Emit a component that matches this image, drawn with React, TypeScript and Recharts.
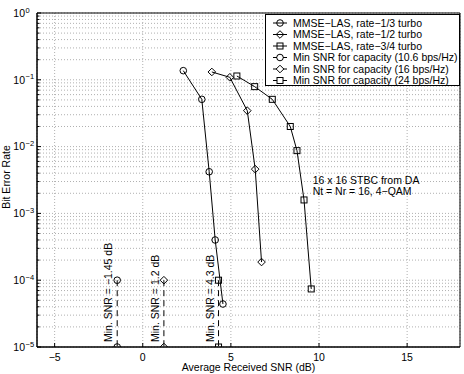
import React from 'react';
import {
    LineChart,
    Line,
    XAxis,
    YAxis,
    CartesianGrid,
    ReferenceArea,
    ReferenceDot,
    Legend
} from 'recharts';

const FONT = '"Liberation Sans", Arial, Helvetica, sans-serif';

// BER curves (SNR in dB, bit error rate)
const snr13 = [2.3, 3.35, 3.77, 4.11, 4.55];
const ber13 = [0.137, 0.051, 0.0042, 4.0e-4, 4.4e-5];
const snr12 = [3.92, 4.94, 5.93, 6.38, 6.74];
const ber12 = [0.131, 0.109, 0.0345, 0.0046, 1.87e-4];
const snr34 = [5.34, 6.35, 7.35, 8.37, 8.75, 9.15, 9.56];
const ber34 = [0.114, 0.079, 0.051, 0.02, 0.0087, 1.59e-3, 7.4e-5];

// capacity limits
const capSnr = [-1.45, 1.2, 4.3];
const capBer = [1e-4, 1e-5];
const capText = ['Min. SNR = \u22121.45 dB', 'Min. SNR = 1.2 dB', 'Min. SNR = 4.3 dB'];

const noteLines = ['16 x 16 STBC from DA', 'Nt = Nr = 16, 4\u2212QAM'];

const legendNames = [
    'MMSE\u2212LAS, rate\u22121/3 turbo',
    'MMSE\u2212LAS, rate\u22121/2 turbo',
    'MMSE\u2212LAS, rate\u22123/4 turbo',
    'Min SNR for capacity (10.6 bps/Hz)',
    'Min SNR for capacity (16 bps/Hz)',
    'Min SNR for capacity (24 bps/Hz)'
];
const shapes = ['circle', 'diamond', 'square'];

const xTicks = [-5, 0, 5, 10, 15];
const decades = [-5, -4, -3, -2, -1, 0];
const yTicks: number[] = [];
decades.forEach((d) => {
    if (d === 0) {
        yTicks.push(1);
        return;
    }
    for (let m = 1; m <= 9; m++) yTicks.push(m * Math.pow(10, d));
});

const toPts = (xs: number[], ys: number[]) => xs.map((x, i) => ({ snr: x, ber: ys[i] }));

function Marker({ shape, cx, cy }: { shape: string; cx: number; cy: number }) {
    if (shape === 'circle') return <circle cx={cx} cy={cy} r={3.3} fill="none" stroke="#000" />;
    if (shape === 'diamond')
        return (
            <polygon
                points={`${cx},${cy - 3.8} ${cx + 3.8},${cy} ${cx},${cy + 3.8} ${cx - 3.8},${cy}`}
                fill="none"
                stroke="#000"
            />
        );
    return <rect x={cx - 3} y={cy - 3} width={6} height={6} fill="none" stroke="#000" />;
}

const makeDot = (shape: string, label?: string) => (props: any) => {
    const { cx, cy, index } = props;
    if (cx == null || cy == null) return <g key={`e-${index}`} />;
    return (
        <g key={`d-${shape}-${index}`}>
            <Marker shape={shape} cx={cx} cy={cy} />
            {label && index === 1 ? (
                <text
                    transform={`translate(${cx - 5},${cy - 5}) rotate(-90)`}
                    fontSize={10.5}
                    fontFamily={FONT}
                    fill="#000"
                >
                    {label}
                </text>
            ) : null}
        </g>
    );
};

const YTick = (props: any) => {
    const { x, y, payload } = props;
    const lg = Math.log10(payload.value);
    const major = Math.abs(lg - Math.round(lg)) < 1e-6;
    return (
        <g>
            <line x1={x} x2={x + (major ? 4 : 2.5)} y1={y} y2={y} stroke="#000" />
            {major ? (
                <g fontFamily={FONT} fill="#000">
                    <text x={x - 12} y={y + 3.7} textAnchor="end" fontSize={10.5}>
                        10
                    </text>
                    <text x={x - 11.5} y={y - 0.5} fontSize={7.5}>
                        {Math.round(lg) === 0 ? '0' : `\u2212${Math.abs(Math.round(lg))}`}
                    </text>
                </g>
            ) : null}
        </g>
    );
};

const XTick = (props: any) => {
    const { x, y, payload } = props;
    const v = payload.value;
    return (
        <g>
            <line x1={x} x2={x} y1={y - 6} y2={y - 10} stroke="#000" />
            <text x={x} y={y + 7.5} textAnchor="middle" fontSize={10.5} fontFamily={FONT} fill="#000">
                {v < 0 ? `\u2212${Math.abs(v)}` : v}
            </text>
        </g>
    );
};

const renderLegend = () => (
    <svg width={196} height={72} style={{ display: 'block' }}>
        <rect x={0.5} y={0.5} width={194} height={71} fill="#fff" stroke="#000" />
        {legendNames.map((name, i) => {
            const y = 9 + i * 11.5;
            const dashed = i >= 3;
            return (
                <g key={name}>
                    {dashed ? (
                        <g stroke="#000">
                            <line x1={8} x2={12} y1={y} y2={y} />
                            <line x1={18} x2={22} y1={y} y2={y} />
                        </g>
                    ) : (
                        <line x1={8} x2={22} y1={y} y2={y} stroke="#000" />
                    )}
                    <Marker shape={shapes[i % 3]} cx={15} cy={y} />
                    <text x={28} y={y + 3.7} fontSize={10.5} fontFamily={FONT} fill="#000">
                        {name}
                    </text>
                </g>
            );
        })}
    </svg>
);

export default function App() {
    const curves = [toPts(snr13, ber13), toPts(snr12, ber12), toPts(snr34, ber34)];
    return (
        <div style={{ position: 'absolute', left: 0, top: 0 }}>
            <LineChart width={464} height={374} margin={{ top: 13, right: 4, bottom: 0, left: 0 }}>
                <CartesianGrid stroke="#b0b0b0" strokeDasharray="1 2" />
                <XAxis
                    dataKey="snr"
                    type="number"
                    domain={[-6, 18]}
                    ticks={xTicks}
                    allowDataOverflow
                    height={27}
                    stroke="#000"
                    tickSize={0}
                    tickMargin={6}
                    tick={<XTick />}
                    label={{
                        content: (p: any) => {
                            const vb = p.viewBox;
                            return (
                                <text
                                    x={vb.x + vb.width / 2}
                                    y={vb.y + 24}
                                    textAnchor="middle"
                                    fontSize={10.5}
                                    fontFamily={FONT}
                                    fill="#000"
                                >
                                    Average Received SNR (dB)
                                </text>
                            );
                        }
                    }}
                />
                <YAxis
                    dataKey="ber"
                    type="number"
                    scale="log"
                    domain={[1e-5, 1]}
                    ticks={yTicks}
                    allowDataOverflow
                    width={37}
                    stroke="#000"
                    tickSize={0}
                    tickMargin={0}
                    tick={<YTick />}
                    interval={0}
                    label={{
                        content: (p: any) => {
                            const vb = p.viewBox;
                            return (
                                <text
                                    transform={`translate(${vb.x + 10},${vb.y + vb.height / 2 - 3}) rotate(-90)`}
                                    textAnchor="middle"
                                    fontSize={10.5}
                                    fontFamily={FONT}
                                    fill="#000"
                                >
                                    Bit Error Rate
                                </text>
                            );
                        }
                    }}
                />
                <ReferenceArea x1={-6} x2={18} y1={1e-5} y2={1} fill="none" fillOpacity={0} stroke="#000" />
                {curves.map((pts, i) => (
                    <Line
                        key={`c${i}`}
                        data={pts}
                        dataKey="ber"
                        type="linear"
                        stroke="#000"
                        strokeWidth={1}
                        dot={makeDot(shapes[i])}
                        isAnimationActive={false}
                    />
                ))}
                {capSnr.map((s, i) => (
                    <Line
                        key={`m${i}`}
                        data={capBer.map((b) => ({ snr: s, ber: b }))}
                        dataKey="ber"
                        type="linear"
                        stroke="#000"
                        strokeWidth={1}
                        strokeDasharray="6 4"
                        dot={makeDot(shapes[i], capText[i])}
                        isAnimationActive={false}
                    />
                ))}
                <ReferenceDot
                    x={9.64}
                    y={2.8e-3}
                    r={0}
                    stroke="none"
                    label={{
                        content: (p: any) => {
                            const vb = p.viewBox;
                            return (
                                <text x={vb.x} y={vb.y} fontSize={10.5} fontFamily={FONT} fill="#000">
                                    {noteLines.map((t, i) => (
                                        <tspan key={t} x={vb.x} dy={i === 0 ? 0 : 11}>
                                            {t}
                                        </tspan>
                                    ))}
                                </text>
                            );
                        }
                    }}
                />
                <Legend
                    layout="vertical"
                    align="center"
                    verticalAlign="middle"
                    content={renderLegend}
                    wrapperStyle={{ top: 14, left: 265, width: 196, height: 72 }}
                />
            </LineChart>
        </div>
    );
}
